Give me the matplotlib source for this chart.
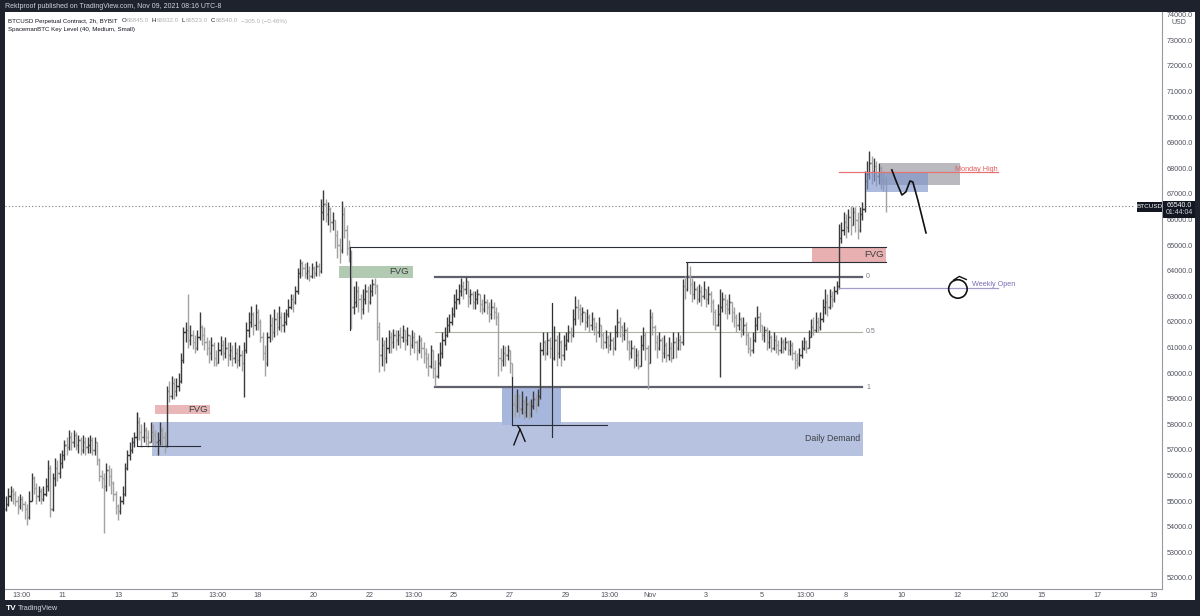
import matplotlib
matplotlib.use("Agg")
import matplotlib.pyplot as plt
from matplotlib.collections import LineCollection
from matplotlib.patches import Rectangle, Ellipse

# === DATOS: barras de 2h, BTCUSD (Bybit), desde el 9 de octubre 00:00 ===
first_open = 54700

closes = [
    # Oct 9
    54900, 55200, 55400, 55300, 55000, 54800, 55100, 54900, 54700, 54400, 55000, 55900,
    # Oct 10
    55500, 55200, 55400, 55100, 55300, 55600, 56300, 54700, 55900, 56300, 56100, 56500,
    # Oct 11
    56800, 57200, 57100, 57500, 57300, 57600, 57200, 57400, 57000, 57300, 57100, 57200,
    # Oct 12
    57400, 57000, 57300, 56600, 56000, 55900, 55600, 56200, 56000, 55700, 55300, 54800,
    # Oct 13
    54600, 55000, 55300, 56300, 56800, 57000, 57300, 57500, 58100, 57700, 57500, 57800,
    # Oct 14
    57500, 57300, 57700, 57600, 57300, 57400, 57800, 57500, 57200, 59300, 59100, 59600,
    # Oct 15
    59300, 59500, 59700, 60500, 61600, 61700, 61300, 61500, 61200, 61000, 61400, 61800,
    # Oct 16
    61500, 61200, 61000, 60800, 61100, 60600, 60400, 60900, 61100, 60800, 61000, 60700,
    # Oct 17
    60900, 60600, 60800, 60500, 60700, 60400, 60900, 61700, 62000, 62300, 61900, 62400,
    # Oct 18
    62000, 61400, 60800, 60400, 61400, 61900, 61600, 62100, 61800, 62200, 61900, 62000,
    # Oct 19
    62300, 62600, 62900, 62800, 63200, 63900, 64300, 64100, 63900, 64000, 63800, 64100,
    # Oct 20
    63900, 64200, 64000, 66300, 66600, 66200, 66400, 65900, 66000, 65400, 65000, 64800,
    # Oct 21
    66200, 65600, 64900, 64600, 62600, 62800, 63200, 62900, 62500, 62900, 63200, 62800,
    # Oct 22
    63200, 63500, 63400, 61800, 60700, 61100, 60600, 61000, 61400, 61200, 61500, 61300,
    # Oct 23
    61500, 61400, 61700, 61300, 61500, 61100, 61400, 61200, 60900, 61300, 61000, 60800,
    # Oct 24
    60600, 60300, 60900, 60200, 59900, 60400, 60800, 61300, 61500, 61900, 62000, 62300,
    # Oct 25
    62800, 62900, 63200, 63400, 63300, 63600, 63000, 63100, 62800, 62900, 63100, 62700,
    # Oct 26
    62500, 62800, 62600, 62300, 62600, 62400, 62200, 60600, 60500, 60800, 60700, 60900,
    # Oct 27
    60400, 58800, 58700, 59100, 58600, 58900, 58500, 58800, 58400, 58700, 59000, 58800,
    # Oct 28
    59100, 60900, 61200, 60800, 61300, 61000, 60600, 61300, 60800, 61200, 60700, 61100,
    # Oct 29
    61300, 61600, 61500, 62100, 62600, 62500, 62300, 62400, 62000, 62200, 61900, 62100,
    # Oct 30
    61800, 61600, 61900, 61500, 61200, 61400, 61100, 61300, 61000, 61600, 62000, 61800,
    # Oct 31
    61500, 61700, 61200, 60800, 61000, 60500, 60700, 60300, 61100, 61500, 61000, 60400,
    # Nov 1
    62200, 61800, 61200, 61000, 61300, 60800, 61100, 60700, 61000, 60600, 61200, 61000,
    # Nov 2
    61300, 61200, 63400, 63300, 63800, 63500, 63100, 63300, 62900, 63200, 63000, 63300,
    # Nov 3
    62900, 63100, 62800, 62400, 61900, 62300, 62600, 62900, 62700, 62500, 62800, 62400,
    # Nov 4
    62200, 61900, 62100, 61700, 61900, 61500, 61000, 60900, 61300, 61900, 62200, 61900,
    # Nov 5
    61500, 61700, 61200, 61400, 61000, 61300, 61100, 60900, 61200, 61000, 61200, 60900,
    # Nov 6
    61100, 60800, 60500, 60400, 60700, 61000, 61200, 61000, 61400, 61800, 61700, 62000,
    # Nov 7
    61800, 62100, 62600, 62800, 62600, 63000, 62900, 63200, 63400, 65300, 65600, 65900,
    # Nov 8
    65700, 66100, 65800, 66300, 66000, 65600, 66200, 66400, 67500, 67800, 68200, 67900,
    # Nov 9
    68100, 67700, 68000, 67600, 67500, 66540,
]

highs = [
    55200, 55500, 55600, 55500, 55400, 55200, 55300, 55200, 55000, 54900, 55400, 56100,
    56000, 55700, 55600, 55500, 55600, 55900, 56600, 56400, 56100, 56700, 56600, 56900,
    57000, 57400, 57500, 57800, 57700, 57800, 57700, 57600, 57500, 57600, 57500, 57500,
    57600, 57500, 57500, 57300, 56700, 56200, 56100, 56500, 56400, 56300, 55800, 55400,
    54900, 55200, 55600, 56500, 57000, 57300, 57500, 57700, 58500, 58300, 58000, 58100,
    57900, 57800, 58100, 58000, 57800, 57700, 58080, 57900, 57700, 59490, 59700, 59880,
    59800, 59800, 60000, 60800, 61800, 62000, 63100, 61900, 61700, 61500, 61700, 62390,
    61900, 61800, 61400, 61300, 61400, 61200, 60900, 61200, 61450, 61300, 61400, 61200,
    61200, 61100, 61200, 61000, 61100, 60900, 61200, 62000, 62400, 62630, 62400, 62700,
    62500, 62100, 61600, 61100, 61600, 62300, 62200, 62500, 62400, 62630, 62400, 62400,
    62500, 62900, 63100, 63100, 63400, 64100, 64470, 64400, 64300, 64350, 64200, 64300,
    64200, 64400, 64300, 66800, 67140, 66800, 66700, 66500, 66300, 66000, 65600, 65300,
    66740, 66500, 65800, 65200, 64800, 63400, 63600, 63400, 63100, 63300, 63500, 63400,
    63500, 63690, 63700, 63500, 62000, 61400, 61300, 61400, 61700, 61600, 61730, 61700,
    61700, 61800, 61900, 61700, 61800, 61500, 61700, 61600, 61300, 61500, 61400, 61200,
    61000, 60800, 61100, 60900, 60500, 60800, 61200, 61600, 61800, 62200, 62300, 62600,
    63100, 63300, 63500, 63700, 63600, 63760, 63500, 63300, 63200, 63200, 63300, 63100,
    62900, 63100, 62900, 62800, 62900, 62800, 62600, 62400, 61000, 61100, 61060, 61100,
    60900, 60400, 59200, 59370, 59200, 59300, 59000, 59100, 58900, 59000, 59300, 59200,
    59400, 61210, 61610, 61300, 61600, 61400, 62740, 61840, 61500, 61600, 61300, 61500,
    61600, 61900, 61800, 62500, 63020, 62900, 62700, 62600, 62400, 62500, 62300, 62400,
    62200, 62000, 62200, 61900, 61600, 61700, 61500, 61600, 61400, 61900, 62510, 62200,
    61900, 62000, 61800, 61300, 61300, 61100, 61000, 60900, 61500, 61800, 61600, 61100,
    62510, 62400, 61900, 61500, 61600, 61400, 61500, 61200, 61400, 61200, 61600, 61400,
    61600, 61500, 63690, 63800, 64350, 64200, 63700, 63600, 63400, 63500, 63400, 63600,
    63300, 63400, 63200, 62900, 62500, 62700, 63290, 63180, 63100, 62900, 63100, 62800,
    62600, 62300, 62390, 62200, 62200, 62000, 61600, 61400, 61600, 62200, 62630, 62400,
    61900, 61840, 61800, 61700, 61500, 61600, 61500, 61300, 61400, 61330, 61400, 61300,
    61300, 61200, 60900, 60800, 61000, 61300, 61400, 61300, 61700, 62100, 62200, 62390,
    62200, 62400, 62900, 63290, 63100, 63300, 63200, 63400, 63600, 65840, 65900, 66300,
    66200, 66400, 66550, 66500, 66500, 66300, 66500, 66700, 67880, 68300, 68670, 68500,
    68400, 68300, 68200, 68100, 67900, 67700,
]

lows = [
    54600, 54800, 55000, 54900, 54800, 54500, 54700, 54600, 54300, 54080, 54300, 55000,
    55300, 54900, 55000, 54900, 55000, 55200, 55400, 54400, 54600, 55600, 55800, 55900,
    56300, 56600, 56800, 57000, 57000, 57100, 57000, 56900, 56800, 56900, 56800, 56900,
    56900, 56800, 56800, 56400, 55800, 55500, 53760, 55400, 55600, 55300, 55000, 54500,
    54270, 54500, 54900, 55200, 56200, 56600, 56900, 57100, 57400, 57400, 57100, 57300,
    57200, 57100, 57300, 57200, 57100, 56820, 57200, 57100, 56900, 57100, 58860, 59000,
    59000, 59100, 59300, 59600, 60400, 61200, 61000, 61100, 60940, 60800, 60900, 61300,
    61100, 60900, 60700, 60400, 60500, 60300, 60270, 60400, 60700, 60500, 60600, 60300,
    60500, 60300, 60400, 60200, 60300, 60100, 59060, 60800, 61400, 61800, 61500, 61700,
    61700, 61200, 60500, 59880, 60300, 61200, 61300, 61400, 61500, 61700, 61610, 61600,
    61900, 62200, 62500, 62400, 62700, 63100, 63700, 63800, 63700, 63690, 63600, 63700,
    63700, 63800, 63800, 63900, 66000, 65900, 65800, 65500, 65600, 64900, 64500, 64300,
    64700, 65300, 64600, 64350, 61730, 62300, 62600, 62400, 62120, 62300, 62700, 62400,
    62700, 63000, 63100, 61300, 60040, 60300, 60100, 60400, 60800, 60800, 61000, 60900,
    61100, 61000, 61200, 60900, 61100, 60700, 61000, 60800, 60500, 60800, 60600, 60400,
    60200, 59900, 60200, 59800, 59500, 59800, 60300, 60600, 61100, 61400, 61600, 61900,
    62200, 62500, 62700, 63000, 62900, 63100, 62600, 62700, 62500, 62500, 62700, 62400,
    62300, 62400, 62300, 62000, 62100, 62100, 61900, 59880, 60100, 60300, 60300, 60500,
    60000, 58310, 58300, 58500, 58300, 58400, 58200, 58300, 58200, 58300, 58600, 58500,
    58700, 59000, 60700, 60500, 60700, 60600, 57510, 60500, 60300, 60600, 60270, 60500,
    60900, 61200, 61200, 61400, 61900, 62100, 61900, 62000, 61700, 61800, 61600, 61700,
    61500, 61200, 61400, 61000, 60940, 61000, 60800, 60900, 60700, 60900, 61400, 61400,
    61200, 61300, 60900, 60500, 60600, 60200, 60300, 60150, 60300, 60900, 60500, 59370,
    60400, 61500, 60900, 60600, 60900, 60430, 60600, 60430, 60500, 60430, 60700, 60600,
    60900, 60900, 61100, 62900, 63200, 63100, 62800, 62900, 62700, 62800, 62630, 62900,
    62600, 62700, 62400, 61900, 61700, 61840, 59840, 62400, 62300, 62100, 62300, 62000,
    61800, 61600, 61700, 61400, 61500, 61100, 60800, 60670, 60800, 61200, 61700, 61600,
    61300, 61200, 60900, 61000, 60820, 60900, 60800, 60700, 60800, 60800, 60900, 60700,
    60700, 60500, 60150, 60200, 60300, 60600, 60900, 60800, 61000, 61400, 61500, 61610,
    61600, 61700, 62000, 62300, 62240, 62500, 62600, 62800, 63100, 63300, 65100, 65400,
    65300, 65500, 65400, 65800, 65500, 65250, 65500, 66000, 66300, 67200, 67600, 67400,
    67500, 67300, 67400, 67200, 67100, 66300,
]

last_price = 66540
ohlc_header = ["66845.0", "66932.0", "66523.0", "66540.0"]
change_text = "\u2212305.0 (\u22120.46%)"

# ticks del eje de tiempo (dias desde el 9 oct) y del eje de precio
time_ticks = [0.542, 2, 4, 6, 7.542, 9, 11, 13, 14.542, 16, 18, 20, 21.542,
              23, 25, 27, 28.542, 30, 32, 34, 35.5, 37, 39, 41]
time_labels = ["13:00", "11", "13", "15", "13:00", "18", "20", "22", "13:00",
               "25", "27", "29", "13:00", "Nov", "3", "5", "13:00", "8", "10",
               "12", "12:00", "15", "17", "19"]
price_ticks = list(range(52000, 74001, 1000))

# niveles dibujados a mano (precio)
fib_levels = {"0": 63760, "0.5": 61610, "1": 59460}
monday_high = 67860
weekly_open = 63330

W, H = 1200, 616
BG = "#1e222d"
plt.rcParams["font.family"] = ["Liberation Sans", "DejaVu Sans"]

fig = plt.figure(figsize=(12, 6.16), dpi=100, facecolor=BG)
renderer = fig.canvas.get_renderer()


def fx(px):
    return px / W


def fy(py):
    return 1 - py / H


fig.patches.append(Rectangle((fx(5), fy(600)), fx(1195) - fx(5), fy(12) - fy(600),
                             transform=fig.transFigure, facecolor="white",
                             edgecolor="none", zorder=-1))

ax = fig.add_axes([fx(5), fy(589), fx(1162) - fx(5), fy(12) - fy(589)])
ax.set_facecolor("white")
ax.set_xlim(-0.036, 41.29)
ax.set_ylim(51570, 74109)

# === BARRAS OHLC ===
up_segs, dn_segs = [], []
w = 0.045
prev = first_open
for i, (c, h, l) in enumerate(zip(closes, highs, lows)):
    x = i / 12
    o = prev
    hi, lo = max(h, o, c), min(l, o, c)
    segs = [[(x, lo), (x, hi)], [(x - w, o), (x, o)], [(x, c), (x + w, c)]]
    (up_segs if c >= o else dn_segs).extend(segs)
    prev = c
ax.add_collection(LineCollection(up_segs, colors="#3b3b3b", linewidths=1.0, zorder=3))
ax.add_collection(LineCollection(dn_segs, colors="#a2a2a2", linewidths=1.0, zorder=3))


# === ZONAS ===
def box(x0, x1, y0, y1, color, alpha=1.0, z=1):
    ax.add_patch(Rectangle((x0, y0), x1 - x0, y1 - y0, facecolor=color,
                           edgecolor="none", alpha=alpha, zorder=z))


box(5.21, 30.61, 56770, 58100, "#b7c2e1")                 # daily demand
box(17.71, 19.82, 57980, 59460, "#a6b6dc", z=1.5)          # caja pequeña
box(5.32, 7.29, 58410, 58760, "#e9b7b7")                  # FVG izq
box(11.89, 14.54, 63720, 64190, "#b1cab1")                # FVG verde
box(28.79, 31.43, 64340, 64930, "#e8b0b0")                # FVG der
box(31.21, 34.07, 67350, 68210, "#9c9ca4", alpha=0.7, z=4)
box(30.71, 32.93, 67080, 67860, "#7f95cb", alpha=0.65, z=4.5)

tk = dict(fontsize=6.8, color="#3c4043", va="center", zorder=6)
ax.text(7.2, 58585, "FVG", ha="right", **tk)
ax.text(14.4, 63955, "FVG", ha="right", **tk)
ax.text(31.35, 64635, "FVG", ha="right", **tk)
ax.text(30.5, 57430, "Daily Demand", ha="right", fontsize=6.3, color="#3c4043",
        va="center", zorder=6)

# === LINEAS ===
ln = dict(color="#2a2e39", lw=0.8, zorder=5)
ax.plot([4.68, 6.93], [57160, 57160], **ln)
ax.plot([4.68, 4.68], [57160, 58450], **ln)
ax.plot([18.07, 21.46], [57980, 57980], **ln)
ax.plot([18.07, 18.07], [57980, 59850], **ln)
ax.plot([19.5, 19.5], [57510, 62740], **ln)
ax.plot([12.29, 31.43], [64930, 64930], **ln)
ax.plot([12.29, 12.29], [61690, 64930], **ln)
ax.plot([24.29, 31.43], [64340, 64340], **ln)

for lab, lvl in fib_levels.items():
    if lab == "0.5":
        ax.plot([15.32, 30.57], [lvl, lvl], color="#a9b3a0", lw=0.8, zorder=2)
    else:
        ax.plot([15.32, 30.57], [lvl, lvl], color="#5d606b", lw=1.6, zorder=2)
    ax.text(30.72, lvl, lab, fontsize=5, color="#787b86", va="center")

ax.axhline(last_price, xmin=0, xmax=0.975, color="#787b86", lw=0.8,
           ls=(0, (1, 2)), zorder=2)

ax.plot([29.75, 35.45], [weekly_open, weekly_open], color="#a09ccc", lw=0.9, zorder=5)
ax.text(34.5, weekly_open + 120, "Weekly Open", fontsize=5.2, color="#7b6bb5",
        va="center", zorder=6)
ax.plot([29.75, 35.45], [monday_high, monday_high], color="#e57373", lw=0.9, zorder=5)
ax.text(35.42, monday_high + 100, "Monday High", fontsize=5.2, color="#e05c5c",
        ha="right", va="center", zorder=6)

# trazos a mano
ax.add_patch(Ellipse((34.0, 63290), 0.66, 720, facecolor="none",
                     edgecolor="#111111", lw=1.2, zorder=7))
ax.plot([33.85, 34.05, 34.3], [63640, 63780, 63660], color="#111111", lw=1.0, zorder=7)
path_x = [31.64, 31.82, 32.0, 32.14, 32.29, 32.39, 32.57, 32.86]
path_y = [67940, 67430, 66960, 67080, 67510, 67470, 66760, 65480]
ax.plot(path_x, path_y, color="#111111", lw=1.2, zorder=7)
ax.plot([18.14, 18.36, 18.29], [57200, 57810, 57920], color="#111111", lw=1.0, zorder=7)
ax.plot([18.36, 18.54], [57810, 57340], color="#111111", lw=1.0, zorder=7)

# === EJES ===
for s in ["top", "left"]:
    ax.spines[s].set_visible(False)
ax.spines["right"].set_color("#9598a1")
ax.spines["bottom"].set_color("#9598a1")
ax.spines["right"].set_linewidth(0.8)
ax.spines["bottom"].set_linewidth(0.8)
ax.yaxis.tick_right()
ax.set_yticks(price_ticks)
ax.set_yticklabels([f"{v:.1f}" for v in price_ticks])
ax.set_xticks(time_ticks)
ax.set_xticklabels(time_labels)
ax.tick_params(axis="y", length=0, pad=3.5, labelsize=5.2, labelcolor="#50535e")
ax.tick_params(axis="x", length=0, pad=2.5, labelsize=5.2, labelcolor="#50535e")

# etiqueta de precio actual
fig.patches.append(Rectangle((fx(1163), fy(218)), fx(32), 17 / H,
                             transform=fig.transFigure, facecolor="#131722",
                             edgecolor="none", zorder=5))
fig.text(fx(1179), fy(205.5), f"{last_price:.1f}", fontsize=5, color="white",
         ha="center", va="center", zorder=6)
fig.text(fx(1179), fy(213), "01:44:04", fontsize=5, color="#d1d4dc",
         ha="center", va="center", zorder=6)
fig.patches.append(Rectangle((fx(1137), fy(212)), fx(25), 10 / H,
                             transform=fig.transFigure, facecolor="#131722",
                             edgecolor="none", zorder=5))
fig.text(fx(1149.5), fy(207), "BTCUSD", fontsize=4.6, color="white",
         ha="center", va="center", zorder=6)
fig.text(fx(1179), fy(22.5), "USD", fontsize=5, color="#50535e", ha="center", va="center")


# === TEXTOS ===
def chain(x_px, y_px, parts, size=4.4):
    """Escribe trozos de texto uno tras otro en la misma linea."""
    for txt, col, gap in parts:
        t = fig.text(fx(x_px), fy(y_px), txt, fontsize=size, color=col, va="center")
        x_px = t.get_window_extent(renderer).x1 + gap


fig.text(fx(5), fy(6), "Rektproof published on TradingView.com, Nov 09, 2021 08:16 UTC-8",
         fontsize=5.0, color="#d1d4dc", va="center")
parts = [("BTCUSD Perpetual Contract, 2h, BYBIT", "#131722", 4)]
for letter, val in zip("OHLC", ohlc_header):
    parts.append((letter, "#131722", 0.5))
    parts.append((val, "#b0b0b0", 3))
parts.append((change_text, "#b0b0b0", 0))
chain(8, 21, parts)
fig.text(fx(8), fy(30), "SpacemanBTC Key Level (40, Medium, Small)", fontsize=4.4,
         color="#131722", va="center")

fig.text(fx(6), fy(608), "TV", fontsize=6, color="white", weight="bold", va="center")
fig.text(fx(18), fy(608), "TradingView", fontsize=5.3, color="#d1d4dc", va="center")

fig.savefig("out.png", dpi=100, facecolor=BG)
